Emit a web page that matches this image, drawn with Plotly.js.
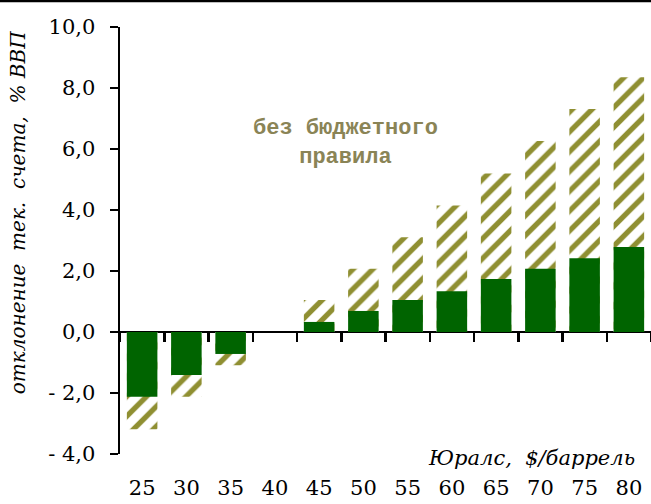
<!DOCTYPE html>
<html>
<head>
<meta charset="utf-8">
<script src="https://cdn.plot.ly/plotly-3.0.1.min.js"></script>
<style>html,body{margin:0;padding:0;background:#fff;}#chart{width:651px;height:504px;}</style>
</head>
<body>
<div id="chart"></div>
<script>
var categories = ["25","30","35","40","45","50","55","60","65","70","75","80"];
var withRule = [-2.12,-1.41,-0.72,0,0.33,0.69,1.05,1.34,1.74,2.07,2.42,2.79];
var withoutRule = [-3.19,-2.12,-1.09,0,1.05,2.07,3.11,4.15,5.20,6.26,7.31,8.35];
var yTickVals = [-4,-2,0,2,4,6,8,10];
var yTickText = ["- 4,0","- 2,0","0,0","2,0","4,0","6,0","8,0","10,0"];
var zeros = categories.map(function(){return 0;});

var serif = "DejaVu Serif, serif";

var traces = [
  {
    type: "bar", x: categories, y: withoutRule, width: 0.69,
    marker: {color: "#ffffff", line: {width: 0},
      pattern: {shape: "/", fgcolor: "#8f8f32", bgcolor: "#ffffff", size: 14, solidity: 0.38}},
    hoverinfo: "skip", showlegend: false
  },
  {
    type: "bar", x: categories, y: withRule, width: 0.69,
    marker: {color: "#006400", line: {width: 0}},
    hoverinfo: "skip", showlegend: false
  },
  {
    type: "scatter", mode: "lines", x: categories, y: zeros, xaxis: "x2", yaxis: "y",
    line: {width: 0}, opacity: 0, hoverinfo: "skip", showlegend: false
  }
];

var layout = {
  width: 651, height: 504,
  margin: {l: 120, r: 0, t: 27, b: 50},
  paper_bgcolor: "#ffffff", plot_bgcolor: "#ffffff",
  barmode: "overlay",
  showlegend: false,
  font: {family: serif, color: "#000000", size: 21},
  xaxis: {
    type: "category", categoryorder: "array", categoryarray: categories,
    range: [-0.5, 11.5], showgrid: false, zeroline: false, showline: false,
    ticks: "outside", ticklen: 15, tickcolor: "rgba(0,0,0,0)",
    tickfont: {family: serif, size: 21, color: "#000"}, fixedrange: true
  },
  xaxis2: {
    type: "category", categoryorder: "array", categoryarray: categories,
    overlaying: "x", anchor: "free", position: 4/14,
    range: [-0.5, 11.5], showgrid: false, zeroline: false, showline: false,
    ticks: "outside", tickson: "boundaries", ticklen: 9, tickwidth: 2.5, tickcolor: "#000",
    showticklabels: false, fixedrange: true
  },
  yaxis: {
    range: [-4, 10], tickvals: yTickVals, ticktext: yTickText,
    showgrid: false, zeroline: true, zerolinecolor: "#000", zerolinewidth: 2.5,
    showline: true, linecolor: "#000", linewidth: 2.5,
    ticks: "outside", ticklen: 8, tickwidth: 2.5, tickcolor: "#000",
    ticklabelstandoff: 10,
    tickfont: {family: serif, size: 21, color: "#000"}, fixedrange: true
  },
  annotations: [
    {
      text: "отклонение\u00A0 тек.\u00A0 счета,\u00A0 % ВВП",
      xref: "paper", yref: "paper", x: -0.192, y: 0.564,
      xanchor: "center", yanchor: "middle", textangle: -90, showarrow: false,
      font: {family: serif, size: 20, color: "#000", style: "italic"}
    },
    {
      text: "Юралс,\u00A0 $/баррель",
      xref: "paper", yref: "paper", x: 0.974, y: -0.009,
      xanchor: "right", yanchor: "middle", showarrow: false,
      font: {family: serif, size: 21, color: "#000", style: "italic"}
    },
    {
      text: "без бюджетного<br>правила",
      xref: "paper", yref: "paper", x: (345-120)/531, y: (454-143)/427,
      xanchor: "center", yanchor: "middle", showarrow: false,
      font: {family: "Liberation Mono, monospace", size: 22, color: "#8a8456", weight: "bold"}
    }
  ],
  shapes: [
    {type: "line", xref: "paper", yref: "paper", x0: -0.3, x1: 1.05,
     y0: (454-1)/427, y1: (454-1)/427, line: {color: "#000", width: 2.5}}
  ]
};

Plotly.newPlot("chart", traces, layout, {displayModeBar: false, staticPlot: true});
</script>
</body>
</html>
